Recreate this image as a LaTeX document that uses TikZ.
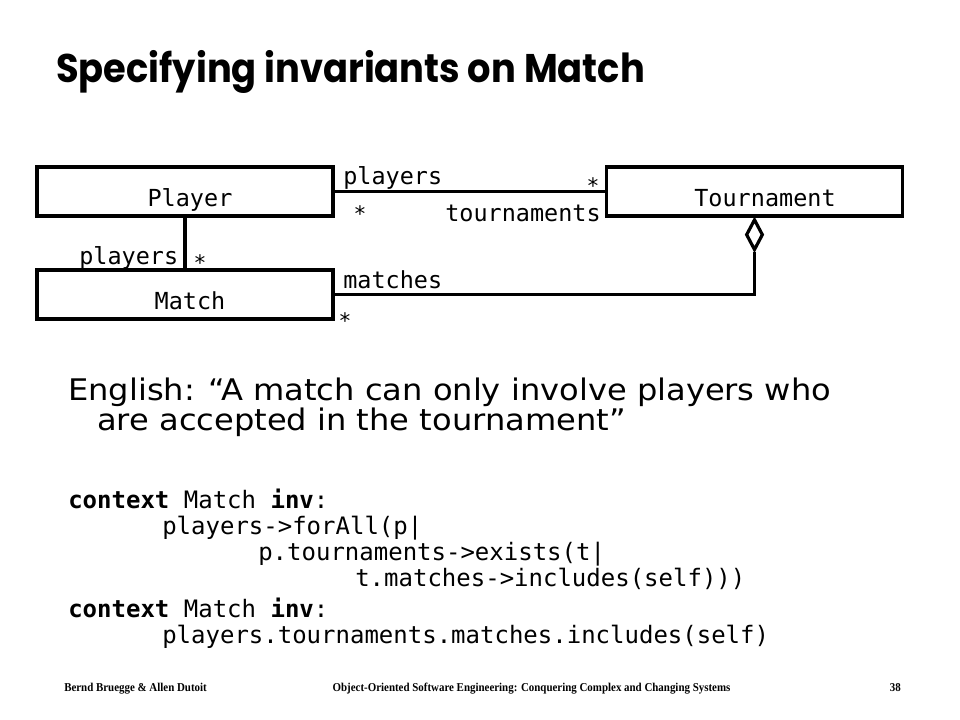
\documentclass[tikz,border=0pt]{standalone}
\usepackage{fontspec}
\setmainfont{DejaVu Sans}[FakeStretch=1.08]
\newfontfamily\titlefont{Poppins}[FakeStretch=0.92]
\newfontfamily\monofont{DejaVu Sans Mono}
\newfontfamily\footfont{Liberation Serif}[FakeStretch=0.91]
\usetikzlibrary{shapes.geometric}
\tikzset{
  umlbox/.style={draw, line width=2.4pt, rectangle, inner sep=0pt, minimum width=222pt, minimum height=36.75pt},
  boxtext/.style={anchor=base, inner sep=0pt, font=\monofont\fontsize{17.6pt}{21pt}\selectfont},
  lbl/.style={anchor=base west, inner sep=0pt, font=\monofont\fontsize{17.6pt}{21pt}\selectfont},
  star/.style={anchor=base, inner sep=0pt, font=\monofont\fontsize{16pt}{21pt}\selectfont},
  assoc/.style={line width=2.4pt},
  codeline/.style={anchor=base west, inner sep=0pt, font=\monofont\fontsize{18pt}{21pt}\selectfont},
  engline/.style={anchor=base west, inner sep=0pt, font=\fontsize{22.3pt}{26pt}\selectfont},
  foot/.style={inner sep=0pt, font=\footfont\bfseries\fontsize{9pt}{11pt}\selectfont}
}
\begin{document}
\begin{tikzpicture}[x=0.75pt, y=-0.75pt]
\useasboundingbox[fill=white] (0,0) rectangle (960,720);
% title
\node[anchor=base west, inner sep=0pt, font=\titlefont\bfseries\fontsize{30pt}{34pt}\selectfont] (title) at (56,83) {Specifying invariants on Match};
% classes
\node[umlbox] (player) at (185,191.5) {};
\node[umlbox] (tourn) at (754.5,191.5) {};
\node[umlbox] (match) at (185,294.5) {};
\node[boxtext] (playert) at (190,207) {Player};
\node[boxtext] (tournt) at (765,207) {Tournament};
\node[boxtext] (matcht) at (190,310) {Match};
\node[draw, diamond, line width=2.4pt, inner sep=0pt, minimum width=12.75pt, minimum height=23.25pt, anchor=north] (dia) at (tourn.south) {};
% associations
\draw[assoc] (player.east) -- (tourn.west);
\draw[assoc] (player.south) -- (match.north);
\draw[assoc] (match.east) -| (dia.south);
% association labels
\node[lbl] (l1) at (343,185) {players};
\node[star] (s1) at (593,194) {*};
\node[star] (s2) at (360,222) {*};
\node[lbl] (l2) at (445,222) {tournaments};
\node[lbl] (l3) at (79,265) {players};
\node[star] (s3) at (200,271) {*};
\node[lbl] (l4) at (343,289) {matches};
\node[star] (s4) at (345,328) {*};
% English text
\node[engline] (e1) at (68,400) {English: “A match can only involve players who};
\node[engline] (e2) at (97,430) {are accepted in the tournament”};
% OCL
\node[codeline] (c1) at (68,508) {\textbf{context} Match \textbf{inv}:};
\node[codeline] (c2) at (162,534) {players->forAll(p|};
\node[codeline] (c3) at (258,560) {p.tournaments->exists(t|};
\node[codeline] (c4) at (355,586) {t.matches->includes(self)))};
\node[codeline] (c5) at (68,617) {\textbf{context} Match \textbf{inv}:};
\node[codeline] (c6) at (162,643) {players.tournaments.matches.includes(self)};
% footer
\node[foot, anchor=base west] (f1) at (64,691) {Bernd Bruegge \& Allen Dutoit};
\node[foot, anchor=base] (f2) at (531.5,691) {Object-Oriented Software Engineering: Conquering Complex and Changing Systems};
\node[foot, anchor=base east] (f3) at (901,691) {38};
\end{tikzpicture}
\end{document}
